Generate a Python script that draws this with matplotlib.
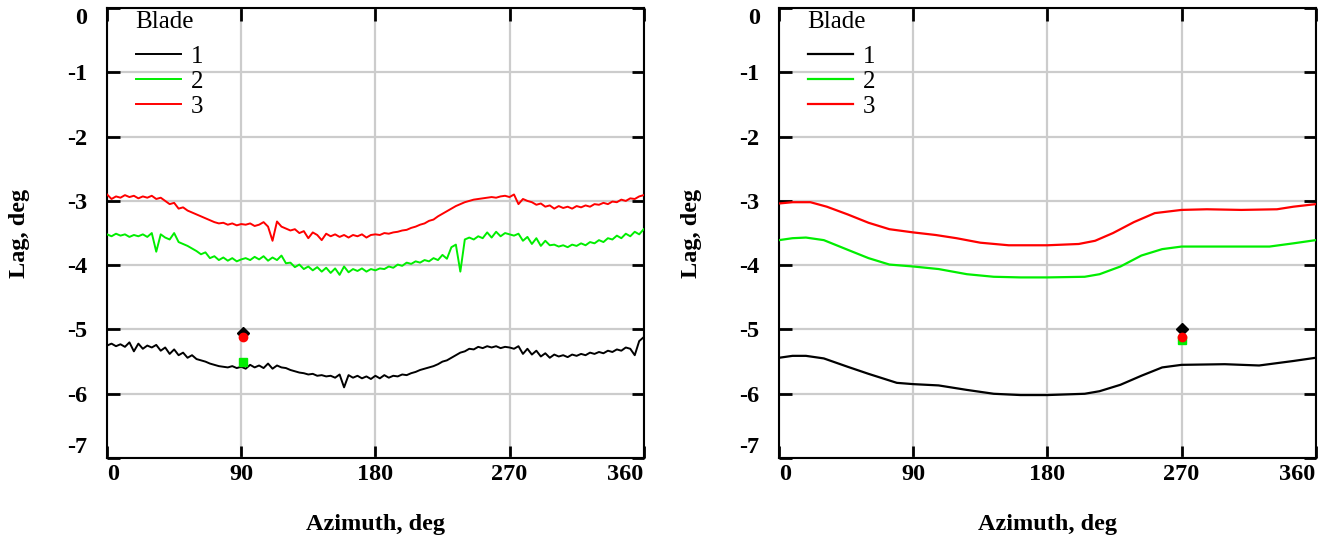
import numpy as np
import matplotlib
matplotlib.use("Agg")
import matplotlib.pyplot as plt

plt.rcParams['font.family'] = ['Liberation Serif', 'DejaVu Serif']
plt.rcParams['axes.unicode_minus'] = False

# ---- left panel: measured lag (noisy), 3 deg steps ----
az_left = np.arange(0, 361, 3)

lag1_left = [-5.25, -5.22, -5.26, -5.23, -5.27, -5.20, -5.34, -5.22, -5.30, -5.25,
             -5.28, -5.24, -5.33, -5.28, -5.38, -5.31, -5.40, -5.36, -5.44, -5.40,
             -5.46, -5.48, -5.50, -5.53, -5.55, -5.57, -5.58, -5.59, -5.57, -5.60,
             -5.58, -5.61, -5.55, -5.59, -5.56, -5.60, -5.53, -5.61, -5.56, -5.59,
             -5.60, -5.63, -5.65, -5.67, -5.68, -5.70, -5.69, -5.72, -5.71, -5.73,
             -5.72, -5.75, -5.70, -5.90, -5.71, -5.75, -5.72, -5.76, -5.73, -5.77,
             -5.72, -5.76, -5.71, -5.75, -5.72, -5.73, -5.70, -5.71, -5.68, -5.66,
             -5.63, -5.61, -5.59, -5.57, -5.54, -5.50, -5.48, -5.44, -5.40, -5.36,
             -5.34, -5.30, -5.31, -5.27, -5.29, -5.26, -5.28, -5.26, -5.29, -5.27,
             -5.28, -5.30, -5.26, -5.38, -5.30, -5.39, -5.33, -5.42, -5.37, -5.44,
             -5.39, -5.42, -5.40, -5.43, -5.39, -5.41, -5.38, -5.40, -5.36, -5.38,
             -5.35, -5.37, -5.33, -5.35, -5.31, -5.33, -5.28, -5.30, -5.40, -5.18,
             -5.12]

lag2_left = [-3.52, -3.55, -3.51, -3.54, -3.52, -3.56, -3.53, -3.55, -3.52, -3.56,
             -3.50, -3.79, -3.52, -3.57, -3.60, -3.50, -3.64, -3.67, -3.70, -3.74,
             -3.78, -3.83, -3.80, -3.89, -3.86, -3.92, -3.88, -3.93, -3.89, -3.94,
             -3.91, -3.89, -3.92, -3.87, -3.91, -3.86, -3.93, -3.88, -3.92, -3.85,
             -3.97, -3.96, -4.03, -3.99, -4.06, -4.02, -4.08, -4.03, -4.10, -4.04,
             -4.12, -4.05, -4.15, -4.02, -4.11, -4.06, -4.09, -4.05, -4.10, -4.06,
             -4.08, -4.05, -4.06, -4.02, -4.04, -3.99, -4.01, -3.96, -3.98, -3.94,
             -3.96, -3.92, -3.94, -3.89, -3.92, -3.84, -3.90, -3.72, -3.68, -4.10,
             -3.60, -3.57, -3.60, -3.55, -3.58, -3.49, -3.57, -3.48, -3.55, -3.50,
             -3.52, -3.54, -3.51, -3.62, -3.56, -3.67, -3.58, -3.70, -3.62, -3.69,
             -3.68, -3.71, -3.69, -3.72, -3.68, -3.70, -3.66, -3.69, -3.64, -3.66,
             -3.61, -3.64, -3.58, -3.60, -3.54, -3.58, -3.51, -3.55, -3.48, -3.52,
             -3.44]

lag3_left = [-2.90, -2.97, -2.93, -2.95, -2.91, -2.94, -2.92, -2.96, -2.93, -2.95,
             -2.92, -2.97, -2.95, -3.00, -3.05, -3.03, -3.12, -3.10, -3.15, -3.18,
             -3.21, -3.24, -3.27, -3.30, -3.33, -3.35, -3.34, -3.37, -3.35, -3.38,
             -3.36, -3.37, -3.35, -3.39, -3.37, -3.33, -3.40, -3.62, -3.32, -3.40,
             -3.43, -3.46, -3.44, -3.50, -3.47, -3.58, -3.49, -3.53, -3.61, -3.51,
             -3.55, -3.52, -3.56, -3.53, -3.57, -3.53, -3.55, -3.52, -3.57, -3.53,
             -3.52, -3.53, -3.50, -3.51, -3.49, -3.48, -3.46, -3.45, -3.42, -3.40,
             -3.37, -3.35, -3.31, -3.29, -3.24, -3.20, -3.16, -3.12, -3.08, -3.05,
             -3.02, -3.00, -2.98, -2.97, -2.96, -2.95, -2.94, -2.95, -2.93, -2.92,
             -2.94, -2.90, -3.05, -2.97, -3.00, -3.02, -3.06, -3.04, -3.09, -3.07,
             -3.12, -3.08, -3.11, -3.09, -3.12, -3.08, -3.10, -3.07, -3.09, -3.05,
             -3.06, -3.03, -3.05, -3.01, -3.02, -2.98, -3.00, -2.96, -2.97, -2.93,
             -2.91]

# single points (blade 1, 2, 3)
pt_left_az = 91
pt_left = [-5.05, -5.50, -5.12]

# ---- right panel: computed lag (smooth) ----
az1_right = [0, 9, 18, 30, 46, 60, 79, 90, 107, 126, 144, 162, 180, 205, 215, 229,
             243, 257, 270, 299, 322, 345, 360]
lag1_right = [-5.44, -5.41, -5.41, -5.45, -5.58, -5.69, -5.83, -5.85, -5.87, -5.94,
              -6.00, -6.02, -6.02, -6.00, -5.96, -5.86, -5.72, -5.59, -5.55, -5.54,
              -5.56, -5.49, -5.44]

az2_right = [0, 9, 18, 30, 46, 60, 74, 90, 107, 126, 144, 162, 180, 205, 215, 229,
             243, 257, 270, 299, 329, 345, 360]
lag2_right = [-3.61, -3.58, -3.57, -3.61, -3.76, -3.89, -3.99, -4.02, -4.06, -4.14,
              -4.18, -4.19, -4.19, -4.18, -4.14, -4.02, -3.85, -3.75, -3.71, -3.71,
              -3.71, -3.66, -3.61]

az3_right = [0, 9, 21, 32, 46, 60, 74, 90, 105, 119, 135, 154, 180, 201, 212, 224,
             238, 252, 270, 287, 310, 334, 345, 360]
lag3_right = [-3.04, -3.02, -3.02, -3.09, -3.21, -3.34, -3.44, -3.49, -3.53, -3.58,
              -3.65, -3.69, -3.69, -3.67, -3.62, -3.50, -3.33, -3.19, -3.14, -3.13,
              -3.14, -3.13, -3.09, -3.05]

pt_right_az = 270
pt_right = [-5.00, -5.17, -5.12]

colors = ['black', '#00ee00', '#ff0000']
markers = ['D', 's', 'o']
blades = ['1', '2', '3']


def style_axes(ax):
    ax.set_xlim(0, 360)
    ax.set_ylim(-7, 0)
    ax.set_xticks([0, 90, 180, 270, 360])
    ax.set_yticks(range(-7, 1))
    ax.grid(True, color='#cccccc', linewidth=1.6, zorder=0)
    ax.set_axisbelow(True)
    ax.tick_params(direction='in', length=9, width=2, top=True, right=True,
                   labelsize=17.5)
    ax.tick_params(axis='y', pad=14)
    ax.tick_params(axis='x', pad=4)
    for s in ax.spines.values():
        s.set_linewidth(1.5)
    for lab in ax.get_xticklabels() + ax.get_yticklabels():
        lab.set_fontweight('bold')
    xl = ax.get_xticklabels()
    xl[0].set_horizontalalignment('left')
    xl[-1].set_horizontalalignment('right')
    yl = ax.get_yticklabels()
    yl[0].set_verticalalignment('bottom')
    yl[-1].set_verticalalignment('top')
    ax.set_xlabel('Azimuth, deg', fontsize=17.5, fontweight='bold', labelpad=21)
    ax.set_ylabel('Lag, deg', fontsize=17.5, fontweight='bold', labelpad=27)
    leg = ax.legend(loc='upper left', bbox_to_anchor=(0.03, 1.022), frameon=False,
                    title='Blade', fontsize=18, title_fontsize=18,
                    handlelength=1.8, handletextpad=0.4, labelspacing=0.1,
                    borderaxespad=0.1)
    leg._legend_box.align = 'left'
    leg._legend_box.sep = 9


fig = plt.figure(figsize=(13.25, 5.37), dpi=100)
ax1 = fig.add_axes([0.0808, 0.147, 0.405, 0.838])
ax2 = fig.add_axes([0.588, 0.147, 0.405, 0.838])

for lag, c, b in zip([lag1_left, lag2_left, lag3_left], colors, blades):
    ax1.plot(az_left, lag, color=c, linewidth=1.4, label=b, zorder=3)
for v, c, m in zip(pt_left, colors, markers):
    ax1.plot(pt_left_az, v, marker=m, color=c, markersize=6, linestyle='none', zorder=4)

for az, lag, c, b in zip([az1_right, az2_right, az3_right],
                         [lag1_right, lag2_right, lag3_right], colors, blades):
    ax2.plot(az, lag, color=c, linewidth=1.6, label=b, zorder=3)
for v, c, m in zip(pt_right, colors, markers):
    ax2.plot(pt_right_az, v, marker=m, color=c, markersize=6, linestyle='none', zorder=4)

style_axes(ax1)
style_axes(ax2)

fig.savefig('out.png', dpi=100)
